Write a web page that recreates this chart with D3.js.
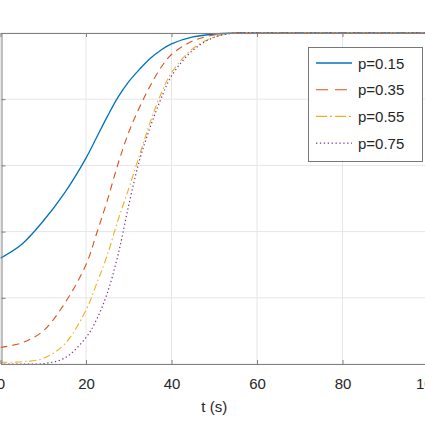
<!DOCTYPE html>
<html>
<head>
<meta charset="utf-8">
<script src="https://cdn.jsdelivr.net/npm/d3@7"></script>
<style>
  html, body { margin: 0; padding: 0; background: #fff; }
  svg { display: block; font-family: "Liberation Sans", Arial, Helvetica, sans-serif; }
</style>
</head>
<body>
<svg id="chart" width="425" height="424"></svg>
<script>
// ---- data ----
const times = [0, 5, 10, 15, 20, 22.5, 25, 27.5, 30, 32.5, 35, 37.5, 40, 45, 50, 55, 60, 80, 100];
const p015 = [0.32, 0.362, 0.432, 0.517, 0.622, 0.685, 0.748, 0.806, 0.853, 0.89, 0.923, 0.948, 0.967, 0.988, 0.997, 1.0, 1.0, 1.0, 1.0];
const p035 = [0.05, 0.064, 0.10, 0.183, 0.30, 0.395, 0.495, 0.605, 0.70, 0.775, 0.84, 0.895, 0.935, 0.976, 0.994, 1.0, 1.0, 1.0, 1.0];
const p055 = [0.005, 0.007, 0.017, 0.06, 0.163, 0.243, 0.33, 0.435, 0.53, 0.63, 0.73, 0.815, 0.88, 0.953, 0.988, 1.0, 1.0, 1.0, 1.0];
const p075 = [0.0, 0.0, 0.001, 0.018, 0.08, 0.135, 0.215, 0.33, 0.48, 0.615, 0.715, 0.80, 0.87, 0.948, 0.987, 1.0, 1.0, 1.0, 1.0];
const seriesNames = ["p=0.15", "p=0.35", "p=0.55", "p=0.75"];
const xTicks = [0, 20, 40, 60, 80, 100];
const yTicks = [0, 0.2, 0.4, 0.6, 0.8, 1];
const xLabel = "t (s)";

// ---- styles ----
const styles = [
  { color: "#0072BD", dash: null, legendDash: null, width: 1.3 },
  { color: "#D95319", dash: "7,5", legendDash: "12,7", width: 1.1 },
  { color: "#EDB120", dash: "7,3,1.5,3", legendDash: "11,3,2,3", width: 1.1 },
  { color: "#7E2F8E", dash: "1.3,2.6", legendDash: "1.3,2.6", width: 1.2 }
];
const allSeries = [p015, p035, p055, p075];

const svg = d3.select("#chart");
const x = d3.scaleLinear().domain([0, 100]).range([0.5, 428]);
const y = d3.scaleLinear().domain([0, 1]).range([364, 33]);

// grid
const grid = svg.append("g");
grid.selectAll(".gx").data(xTicks).join("line")
  .attr("x1", d => x(d)).attr("x2", d => x(d))
  .attr("y1", y(0)).attr("y2", y(1))
  .attr("stroke", "#e6e6e6").attr("stroke-width", 1);
grid.selectAll(".gy").data(yTicks).join("line")
  .attr("x1", x(0)).attr("x2", x(100))
  .attr("y1", d => y(d)).attr("y2", d => y(d))
  .attr("stroke", "#e6e6e6").attr("stroke-width", 1);

// curves
svg.append("clipPath").attr("id", "clip").append("rect")
  .attr("x", x(0)).attr("y", y(1) - 2).attr("width", x(100) - x(0)).attr("height", y(0) - y(1) + 2);

const line = d3.line().x(d => x(d[0])).y(d => y(d[1])).curve(d3.curveCatmullRom.alpha(0.5));
const curves = svg.append("g").attr("clip-path", "url(#clip)");
allSeries.forEach((vals, i) => {
  const pts = times.map((t, j) => [t, vals[j]]);
  curves.append("path").datum(pts)
    .attr("d", line)
    .attr("fill", "none")
    .attr("stroke", styles[i].color)
    .attr("stroke-width", styles[i].width)
    .attr("stroke-dasharray", styles[i].dash);
});

// axes
const axisColor = "#808080";
const xAxis = svg.append("g").attr("transform", `translate(0,${y(0)})`)
  .call(d3.axisBottom(x).tickValues(xTicks).tickFormat(d3.format("d"))
    .tickSizeInner(-4).tickSizeOuter(0).tickPadding(14));
xAxis.select(".domain").attr("stroke", axisColor);
xAxis.selectAll(".tick line").attr("stroke", axisColor);
xAxis.selectAll("text").attr("fill", "#262626").attr("font-size", 15)
  .attr("font-family", "Liberation Sans, Arial, sans-serif");

const xTop = svg.append("g").attr("transform", `translate(0,${y(1)})`)
  .call(d3.axisTop(x).tickValues(xTicks).tickFormat("").tickSizeInner(-4).tickSizeOuter(0));
xTop.select(".domain").attr("stroke", axisColor);
xTop.selectAll(".tick line").attr("stroke", axisColor);

const yAxis = svg.append("g").attr("transform", `translate(${x(0) + 1},0)`)
  .call(d3.axisLeft(y).tickValues(yTicks).tickFormat("").tickSizeInner(-4).tickSizeOuter(0));
yAxis.select(".domain").attr("stroke", axisColor);
yAxis.selectAll(".tick line").attr("stroke", axisColor);

// x label
svg.append("text")
  .attr("x", x(50)).attr("y", 412)
  .attr("text-anchor", "middle")
  .attr("font-size", 15).attr("fill", "#262626")
  .text(xLabel);

// legend
const lg = svg.append("g");
lg.append("rect").attr("x", 308.5).attr("y", 47.5).attr("width", 114).attr("height", 114)
  .attr("fill", "#fff").attr("stroke", "#777").attr("stroke-width", 1);
seriesNames.forEach((name, i) => {
  const cy = 63 + i * 26.7;
  lg.append("line").attr("x1", 316).attr("x2", 352).attr("y1", cy).attr("y2", cy)
    .attr("stroke", styles[i].color).attr("stroke-width", styles[i].width)
    .attr("stroke-dasharray", styles[i].legendDash);
  lg.append("text").attr("x", 358).attr("y", cy + 5.5)
    .attr("font-size", 15).attr("fill", "#262626").text(name);
});
</script>
</body>
</html>
